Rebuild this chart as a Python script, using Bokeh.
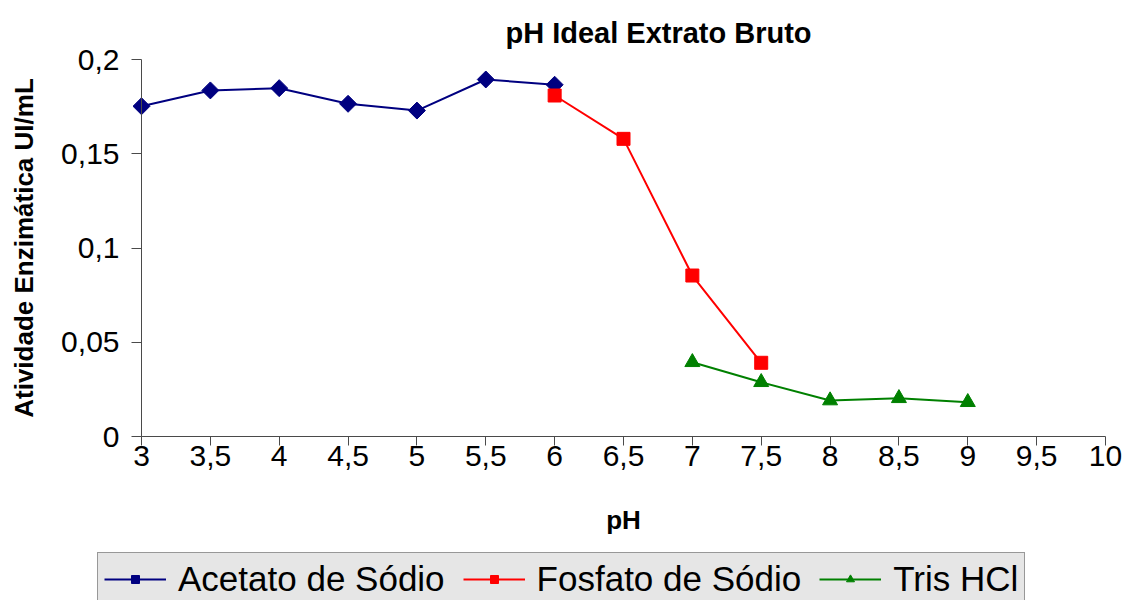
import math
from bokeh.plotting import figure
from bokeh.models import (Range1d, FixedTicker, CustomJSTickFormatter, Legend,
                          LegendItem, Label)
from bokeh.embed import file_html
from bokeh.resources import INLINE

# ---- data ----
ph_acetato = [3, 3.5, 4, 4.5, 5, 5.5, 6]
ativ_acetato = [0.1752, 0.1836, 0.1848, 0.1765, 0.1729, 0.1894, 0.1866]
ph_fosfato = [6, 6.5, 7, 7.5]
ativ_fosfato = [0.1809, 0.1579, 0.0854, 0.0391]
ph_tris = [7, 7.5, 8, 8.5, 9]
ativ_tris = [0.0394, 0.0288, 0.0191, 0.0203, 0.0182]

series_names = ["Acetato de Sódio", "Fosfato de Sódio", "Tris HCl"]
x_ticks = [3, 3.5, 4, 4.5, 5, 5.5, 6, 6.5, 7, 7.5, 8, 8.5, 9, 9.5, 10]
y_ticks = [0, 0.05, 0.1, 0.15, 0.2]
x_lim = (3, 10)
y_lim = (0, 0.2)

FONT = "Liberation Sans"

# ---- layout (pixels) ----
W, H = 1125, 600
AX_L, AX_R, AX_T, AX_B = 141, 1105, 59, 436   # plot-area edges on the page
kx = (AX_R - AX_L) / (x_lim[1] - x_lim[0])
ky = (AX_B - AX_T) / (y_lim[1] - y_lim[0])
x_start = x_lim[0] - AX_L / kx
y_end = y_lim[1] + AX_T / ky
y_start = y_lim[0] - (H - AX_B) / ky

p = figure(width=W, height=H, output_backend="svg", toolbar_location=None,
           x_range=Range1d(x_start, x_start + W / kx),
           y_range=Range1d(y_start, y_end),
           min_border_left=0, min_border_right=0, min_border_top=0,
           min_border_bottom=0, title=None)
p.xgrid.visible = False
p.ygrid.visible = False
p.outline_line_color = None
p.background_fill_color = "white"
p.border_fill_color = "white"

fmt = CustomJSTickFormatter(code="return tick.toString().replace('.', ',')")
for ax, ticks in ((p.xaxis[0], x_ticks), (p.yaxis[0], y_ticks)):
    ax.ticker = FixedTicker(ticks=ticks)
    ax.formatter = fmt
    ax.minor_tick_in = 0
    ax.minor_tick_out = 0
    ax.major_tick_in = 0
    ax.axis_line_color = "#4a4a4a"
    ax.major_tick_line_color = "#4a4a4a"
    ax.major_label_text_font = FONT
    ax.major_label_text_font_size = "30px"
    ax.major_label_text_color = "black"
    ax.axis_label_text_font = FONT
    ax.axis_label_text_font_size = "26px"
    ax.axis_label_text_font_style = "bold"
    ax.axis_label_text_color = "black"

p.xaxis.fixed_location = y_lim[0]
p.xaxis.bounds = x_lim
p.xaxis.major_tick_out = 9
p.xaxis.major_label_standoff = 0
p.xaxis.axis_label = "pH"
p.xaxis.axis_label_standoff = 36

p.yaxis.fixed_location = x_lim[0]
p.yaxis.bounds = y_lim
p.yaxis.major_tick_out = 10
p.yaxis.major_label_standoff = 12
p.yaxis.axis_label = "Atividade Enzimática UI/mL"
p.yaxis.axis_label_standoff = 19

l1 = p.line(ph_acetato, ativ_acetato, line_color="#000080", line_width=2)
m1 = p.scatter(ph_acetato, ativ_acetato, marker="square", angle=math.pi / 4,
               size=12, fill_color="#000080", line_color="#000080")
l2 = p.line(ph_fosfato, ativ_fosfato, line_color="#ff0000", line_width=2)
m2 = p.scatter(ph_fosfato, ativ_fosfato, marker="square", size=13,
               fill_color="#ff0000", line_color="#ff0000")
l3 = p.line(ph_tris, ativ_tris, line_color="#008000", line_width=2)
m3 = p.scatter(ph_tris, ativ_tris, marker="triangle", size=15,
               fill_color="#008000", line_color="#008000")

title = Label(x=x_lim[0] + (658 - AX_L) / kx, y=y_lim[1] + (AX_T - 32) / ky,
              text="pH Ideal Extrato Bruto", text_align="center",
              text_baseline="middle", text_font=FONT, text_font_size="29px",
              text_font_style="bold", text_color="black")
p.add_layout(title)

legend = Legend(items=[LegendItem(label=series_names[0], renderers=[l1, m1]),
                       LegendItem(label=series_names[1], renderers=[l2, m2]),
                       LegendItem(label=series_names[2], renderers=[l3, m3])],
                orientation="horizontal", location=(97, -6),
                background_fill_color="#e6e6e6", background_fill_alpha=1,
                border_line_color="#4a4a4a", border_line_width=1,
                label_text_font=FONT, label_text_font_size="35px",
                label_text_color="black",
                glyph_width=62, glyph_height=20, label_standoff=12,
                spacing=18, padding=6, margin=0)
p.add_layout(legend, "center")

open("out.html", "w").write(file_html(p, INLINE))
